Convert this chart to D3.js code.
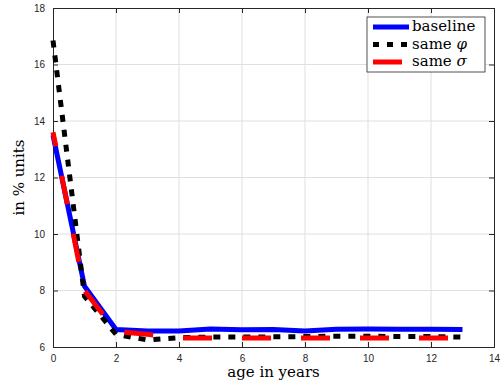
<!DOCTYPE html>
<html>
<head>
<meta charset="utf-8">
<script src="https://cdn.jsdelivr.net/npm/d3@7/dist/d3.min.js"></script>
<style>
  html, body { margin: 0; padding: 0; background: #fff; }
  svg { display: block; }
</style>
</head>
<body>
<svg id="chart" width="503" height="385"></svg>
<script>
// Age grid (years) and the three series (in % units)
const ages = [0, 1, 2, 3, 4, 5, 6, 7, 8, 9, 10, 11, 12, 13];
const baseline = [13.5, 8.15, 6.62, 6.57, 6.57, 6.64, 6.61, 6.62, 6.57, 6.63, 6.64, 6.63, 6.63, 6.62];
const samePhi  = [16.85, 7.8, 6.45, 6.25, 6.33, 6.35, 6.35, 6.36, 6.37, 6.38, 6.38, 6.37, 6.37, 6.35];
const sameSigma = [13.6, 8.0, 6.55, 6.45, 6.32, 6.32, 6.32, 6.32, 6.32, 6.32, 6.32, 6.32, 6.32, 6.32];
const xTicks = [0, 2, 4, 6, 8, 10, 12, 14];
const yTicks = [6, 8, 10, 12, 14, 16, 18];
const legendLabels = ["baseline", "same ", "same "];
const legendSymbols = ["", "φ", "σ"];

const svg = d3.select("#chart");
const m = { left: 53, right: 494, top: 8, bottom: 347 };

const x = d3.scaleLinear().domain([0, 14]).range([m.left, m.right]);
const y = d3.scaleLinear().domain([6, 18]).range([m.bottom, m.top]);

const axisColor = "#262626";
const tickFont = "'Liberation Sans', Arial, sans-serif";
const serif = "'DejaVu Serif', 'Liberation Serif', serif";

// grid
const grid = svg.append("g");
grid.selectAll(".gx").data(xTicks.slice(1, -1)).join("line")
  .attr("x1", d => x(d)).attr("x2", d => x(d))
  .attr("y1", m.top).attr("y2", m.bottom)
  .attr("stroke", "#dfdfdf").attr("stroke-width", 1);
grid.selectAll(".gy").data(yTicks.slice(1, -1)).join("line")
  .attr("x1", m.left).attr("x2", m.right)
  .attr("y1", d => y(d)).attr("y2", d => y(d))
  .attr("stroke", "#dfdfdf").attr("stroke-width", 1);

// axes (ticks pointing inward)
const xAxis = d3.axisBottom(x).tickValues(xTicks).tickSize(-5).tickPadding(8);
const yAxis = d3.axisLeft(y).tickValues(yTicks).tickSize(-5).tickPadding(8);
const gx = svg.append("g").attr("transform", `translate(0,${m.bottom})`).call(xAxis);
const gy = svg.append("g").attr("transform", `translate(${m.left},0)`).call(yAxis);
const gxt = svg.append("g").attr("transform", `translate(0,${m.top})`)
  .call(d3.axisTop(x).tickValues(xTicks).tickSize(-5).tickFormat(""));
const gyr = svg.append("g").attr("transform", `translate(${m.right},0)`)
  .call(d3.axisRight(y).tickValues(yTicks).tickSize(-5).tickFormat(""));
[gx, gy, gxt, gyr].forEach(g => {
  g.select(".domain").attr("stroke", axisColor).attr("stroke-width", 1);
  g.selectAll(".tick line").attr("stroke", axisColor);
  g.selectAll(".tick text").attr("fill", axisColor)
    .style("font-family", tickFont).style("font-size", "10px");
});

// series
const line = d3.line().x((d, i) => x(ages[i])).y(d => y(d));

// path length up to a given vertex, used to phase the dash patterns
function lengthTo(values, k) {
  let L = 0;
  for (let i = 1; i <= k; i++) {
    L += Math.hypot(x(ages[i]) - x(ages[i - 1]), y(values[i]) - y(values[i - 1]));
  }
  return L;
}

const plot = svg.append("g");
plot.append("path").datum(baseline).attr("d", line)
  .attr("fill", "none").attr("stroke", "#0000ff").attr("stroke-width", 5);

const phiPeriod = 15;
plot.append("path").datum(samePhi).attr("d", line)
  .attr("fill", "none").attr("stroke", "#000").attr("stroke-width", 5)
  .attr("stroke-dasharray", "7,8");

const sigmaPeriod = 59;
const sigmaStart = lengthTo(sameSigma, 4) + 4;
plot.append("path").datum(sameSigma).attr("d", line)
  .attr("fill", "none").attr("stroke", "#ff0000").attr("stroke-width", 5)
  .attr("stroke-dasharray", "29,30")
  .attr("stroke-dashoffset", sigmaPeriod - (sigmaStart % sigmaPeriod));

// axis labels
svg.append("text").attr("x", (m.left + m.right) / 2).attr("y", 377)
  .attr("text-anchor", "middle").style("font-family", serif).style("font-size", "15px")
  .attr("fill", "#000").text("age in years");
svg.append("text").attr("transform", `translate(24,${(m.top + m.bottom) / 2}) rotate(-90)`)
  .attr("text-anchor", "middle").style("font-family", serif).style("font-size", "15px")
  .attr("fill", "#000").text("in % units");

// legend
const lg = svg.append("g");
lg.append("rect").attr("x", 367).attr("y", 17).attr("width", 118).attr("height", 55)
  .attr("fill", "#fff").attr("stroke", "#262626").attr("stroke-width", 0.8);
const legendStyles = [
  { color: "#0000ff", dash: null, x1: 373, x2: 409 },
  { color: "#000", dash: "6,8", x1: 373, x2: 409 },
  { color: "#ff0000", dash: null, x1: 373, x2: 402 }
];
legendStyles.forEach((s, i) => {
  const yy = 27 + i * 17.5;
  lg.append("line").attr("x1", s.x1).attr("x2", s.x2).attr("y1", yy).attr("y2", yy)
    .attr("stroke", s.color).attr("stroke-width", 5)
    .attr("stroke-dasharray", s.dash);
  const t = lg.append("text").attr("x", 412).attr("y", yy + 4)
    .style("font-family", serif).style("font-size", "15px").attr("fill", "#000");
  t.append("tspan").text(legendLabels[i]);
  if (legendSymbols[i]) t.append("tspan").style("font-style", "italic").text(legendSymbols[i]);
});
</script>
</body>
</html>
